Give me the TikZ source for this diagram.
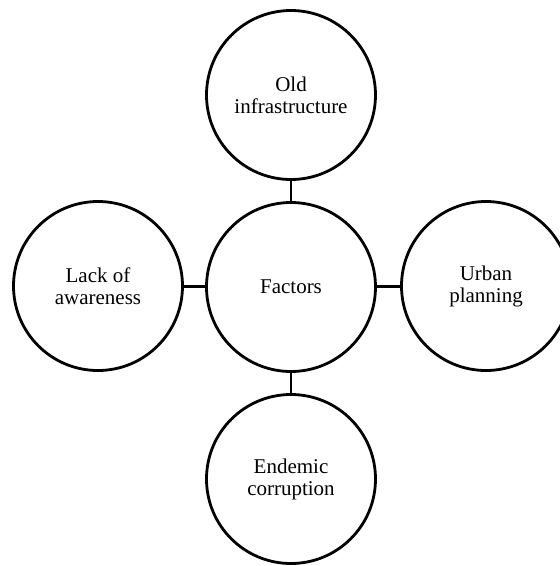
\documentclass[tikz,border=0pt]{standalone}
\usepackage{fontspec}
\setmainfont{Liberation Serif}
\usepackage{tikz}

\tikzset{
  factor/.style={circle, draw=black, line width=2.8pt, minimum size=169pt, inner sep=0pt, align=center,
    font=\fontsize{21pt}{22pt}\selectfont},
  link/.style={line width=2.8pt}
}

\begin{document}
\begin{tikzpicture}[x=1pt, y=-1pt]
			\useasboundingbox (0,0) rectangle (560,566);
			\node[factor](center) at (291,287){Factors};
			\node[factor](old) at (291,95){Old\\infrastructure};
			\node[factor](lack) at (98,286){Lack of\\awareness};
			\node[factor](urban) at (486,286){Urban\\planning};
			\node[factor](endemic) at (291,479){Endemic\\corruption};
			\draw[link] (center) -- (old);
			\draw[link] (center) -- (lack);
			\draw[link] (center) -- (urban);
			\draw[link] (center) -- (endemic);
			\end{tikzpicture}
\end{document}
